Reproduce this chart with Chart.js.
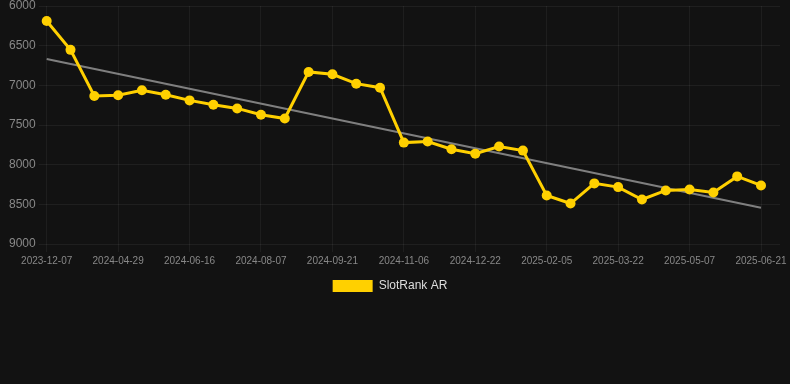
<!DOCTYPE html>
<html>
<head>
<meta charset="utf-8">
<script src="https://cdn.jsdelivr.net/npm/chart.js@4"></script>
<style>
  html, body { margin: 0; padding: 0; background: #121212; }
  #wrap { width: 790px; height: 384px; }
</style>
</head>
<body>
<div id="wrap"><canvas id="chart" width="790" height="384"></canvas></div>
<script>
// dates shown on the x axis (every third one is labelled)
var dates = ['2023-12-07','2024-03-30','2024-04-14','2024-04-29','2024-05-15','2024-05-31',
  '2024-06-16','2024-07-03','2024-07-20','2024-08-07','2024-08-22','2024-09-06',
  '2024-09-21','2024-10-06','2024-10-22','2024-11-06','2024-11-21','2024-12-07',
  '2024-12-22','2025-01-06','2025-01-21','2025-02-05','2025-02-20','2025-03-07',
  '2025-03-22','2025-04-06','2025-04-22','2025-05-07','2025-05-22','2025-06-06','2025-06-21'];

// rank values (lower is better, axis is reversed)
var rankAR = [6190, 6553, 7135, 7125, 7063, 7118, 7190, 7245, 7291, 7371, 7418,
  6831, 6861, 6979, 7030, 7722, 7709, 7806, 7861, 7772, 7823,
  8388, 8490, 8236, 8283, 8439, 8325, 8312, 8350, 8148, 8262];

// trend line end points
var trendStart = 6667;
var trendEnd = 8544;

var trend = dates.map(function(d, i) {
  if (i === 0) return trendStart;
  if (i === dates.length - 1) return trendEnd;
  return null;
});

var gridColor = 'rgba(255,255,255,0.06)';

let chart = new Chart('chart', {
  type: 'line',
  data: {
    labels: dates,
    datasets: [
      {
        label: 'SlotRank AR',
        data: rankAR,
        borderColor: '#ffd000',
        backgroundColor: '#ffd000',
        borderWidth: 3,
        pointRadius: 5,
        pointHoverRadius: 6,
        pointBackgroundColor: '#ffd000',
        pointBorderWidth: 0,
        tension: 0,
        fill: false
      },
      {
        label: 'trend',
        data: trend,
        borderColor: 'rgba(140,140,140,0.9)',
        borderWidth: 2,
        pointRadius: 0,
        spanGaps: true,
        fill: false
      }
    ]
  },
  options: {
    responsive: false,
    animation: false,
    layout: { padding: { bottom: 82, right: 10 } },
    scales: {
      x: {
        grid: { color: 'rgba(255,255,255,0.05)' },
        border: { display: false },
        ticks: {
          color: '#888',
          font: { size: 10 },
          maxRotation: 0,
          autoSkip: true,
          maxTicksLimit: 11
        }
      },
      y: {
        reverse: true,
        min: 6000,
        max: 9000,
        grid: { color: gridColor },
        border: { display: false },
        ticks: {
          color: '#888',
          font: { size: 12, lineHeight: 0.5 },
          stepSize: 500,
          callback: function(v) { return v; }
        },
        afterFit: function(scale) { scale.width += 6; }
      },
      // empty right axis: only carries the grid lines out to the edge
      y2: {
        position: 'right',
        reverse: true,
        min: 6000,
        max: 9000,
        grid: { color: gridColor, drawOnChartArea: false, tickLength: 19 },
        border: { display: false },
        ticks: { display: false, stepSize: 500 }
      }
    },
    plugins: {
      legend: {
        position: 'bottom',
        labels: {
          color: '#ddd',
          boxWidth: 40,
          boxHeight: 12,
          font: { size: 12 },
          filter: function(item) { return item.text !== 'trend'; },
          generateLabels: function(c) {
            var items = Chart.defaults.plugins.legend.labels.generateLabels(c);
            items.forEach(function(it) { it.lineWidth = 0; });
            return items;
          }
        }
      },
      tooltip: { enabled: false }
    }
  }
});
</script>
</body>
</html>
